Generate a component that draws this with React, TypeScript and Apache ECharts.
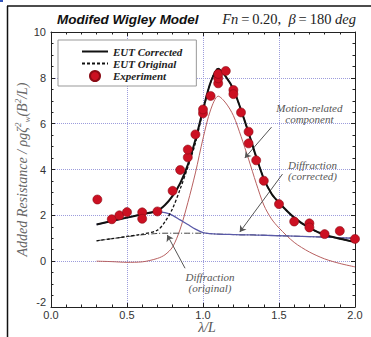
import React, { useEffect, useRef } from "react";
import * as echarts from "echarts";

// wave length ratio grid shared by the computed curves
const lambda = [0.30, 0.40, 0.50, 0.60, 0.70, 0.75, 0.80, 0.85, 0.90, 0.95, 1.00, 1.05, 1.10, 1.15, 1.20, 1.25, 1.30, 1.35, 1.40, 1.45, 1.50, 1.60, 1.70, 1.80, 1.90, 2.00];
const eutCorrected = [1.60, 1.75, 1.90, 2.05, 2.20, 2.45, 2.85, 3.40, 4.20, 5.30, 6.60, 7.80, 8.40, 8.05, 7.50, 6.60, 5.60, 4.55, 3.60, 2.95, 2.55, 1.90, 1.45, 1.15, 0.98, 0.84];
const eutOriginal = [0.89, 0.98, 1.08, 1.18, 1.35, 1.72, 2.30, 3.15, 4.10, 5.15, 6.55, 7.80, 8.40, 8.05, 7.50, 6.60, 5.60, 4.55, 3.60, 2.95, 2.55, 1.90, 1.45, 1.15, 0.98, 0.84];
const motionRelated = [0.00, -0.02, -0.05, -0.03, 0.12, 0.28, 0.62, 1.40, 2.55, 3.85, 5.35, 6.60, 7.20, 6.90, 6.35, 5.45, 4.45, 3.40, 2.45, 1.85, 1.45, 0.82, 0.40, 0.10, -0.10, -0.25];
const diffCorrected = [1.60, 1.75, 1.90, 2.05, 2.15, 2.12, 2.00, 1.80, 1.60, 1.40, 1.25, 1.20, 1.18, 1.17, 1.16, 1.15, 1.15, 1.14, 1.13, 1.12, 1.11, 1.09, 1.07, 1.05, 1.02, 1.00];
const diffOriginal = [0.89, 0.98, 1.07, 1.15, 1.21, 1.22, 1.22, 1.22, 1.22, 1.22, 1.22, 1.20, 1.18, 1.17, 1.16, 1.15, 1.15, 1.14, 1.13, 1.12, 1.11, 1.09, 1.07, 1.05, 1.02, 1.00];

// experiment
const expLambda = [0.305, 0.40, 0.45, 0.50, 0.60, 0.60, 0.70, 0.80, 0.85, 0.90, 0.90, 0.95, 1.00, 1.00, 1.05, 1.10, 1.10, 1.10, 1.15, 1.20, 1.20, 1.25, 1.30, 1.30, 1.35, 1.40, 1.50, 1.60, 1.70, 1.70, 1.80, 1.90, 2.00];
const expValue = [2.69, 1.83, 2.00, 2.14, 2.13, 1.85, 2.17, 3.07, 3.98, 4.53, 4.87, 5.53, 6.45, 6.62, 7.21, 7.76, 7.98, 8.17, 8.30, 7.47, 7.29, 6.49, 5.65, 5.14, 4.40, 3.51, 2.49, 1.73, 1.65, 1.47, 1.18, 1.32, 0.97];

// annotations (data coordinates of the text centres)
const annotationTexts = ["Motion-related\ncomponent", "Diffraction\n(corrected)", "Diffraction\n(original)"];
const annotationAt = [[1.70, 6.45], [1.72, 3.95], [1.046, -0.92]];
const arrowFrom = [[1.451, 5.85], [1.523, 3.80], [0.882, -0.31]];
const arrowTo = [[1.275, 4.50], [1.242, 1.27], [0.765, 1.14]];

const pairs = (xs: number[], ys: number[]) => xs.map((x, i) => [x, ys[i]]);

export default function App() {
  const ref = useRef<HTMLDivElement>(null);
  useEffect(() => {
    if (!ref.current) return;
    const chart = echarts.init(ref.current, null, { renderer: "svg" });
    const axisColor = "#222";
    const xBase = {
      type: "value",
      min: 0,
      max: 2,
      interval: 0.5,
      axisLine: { show: true, onZero: false, lineStyle: { color: axisColor, width: 1 } },
      axisTick: { show: true, inside: true, length: 4, lineStyle: { color: axisColor } },
      minorTick: { show: true, splitNumber: 5, length: 2.5, lineStyle: { color: axisColor } },
    };
    const yBase = {
      type: "value",
      min: -2,
      max: 10,
      interval: 2,
      axisLine: { show: true, onZero: false, lineStyle: { color: axisColor, width: 1 } },
      axisTick: { show: true, inside: true, length: 4, lineStyle: { color: axisColor } },
      minorTick: { show: true, splitNumber: 4, length: 2.5, lineStyle: { color: axisColor } },
    };
    const gridLine = { show: true, lineStyle: { type: "dotted", color: "#9c9cdc", width: 1 } };
    const hiddenIcon = { opacity: 0 };
    const option: any = {
      animation: false,
      backgroundColor: "#fff",
      grid: { left: 51, right: 16, top: 32, bottom: 30, containLabel: false, outerBoundsMode: "none" },
      legend: {
        data: [
          { name: "EUT Corrected", itemStyle: hiddenIcon },
          { name: "EUT Original", itemStyle: hiddenIcon },
          { name: "Experiment" },
        ],
        orient: "vertical",
        left: 58,
        top: 40,
        itemWidth: 26,
        itemHeight: 10,
        itemGap: 1,
        padding: [6, 14, 4, 23],
        backgroundColor: "#fff",
        borderColor: "#999",
        borderWidth: 1,
        selectedMode: false,
        textStyle: { fontFamily: "Liberation Serif", fontStyle: "italic", fontWeight: "bold", fontSize: 11, color: "#222" },
      },
      xAxis: [
        {
          ...xBase,
          axisLabel: { formatter: (v: number) => v.toFixed(1), fontFamily: "Liberation Sans", fontSize: 11, color: "#333", margin: 2 },
          splitLine: gridLine,
        },
        { ...xBase, position: "top", axisLabel: { show: false }, splitLine: { show: false } },
      ],
      yAxis: [
        {
          ...yBase,
          axisLabel: {
            fontFamily: "Liberation Sans",
            fontSize: 11,
            color: "#333",
            margin: 5,
            verticalAlignMinLabel: "bottom",
          },
          splitLine: gridLine,
        },
        { ...yBase, position: "right", axisLabel: { show: false }, splitLine: { show: false } },
      ],
      series: [
        {
          name: "Motion-related",
          type: "line",
          smooth: 0.3,
          symbol: "none",
          data: pairs(lambda, motionRelated),
          lineStyle: { color: "#b86060", width: 1 },
          z: 2,
          markLine: {
            silent: true,
            symbol: ["none", "arrow"],
            symbolSize: 6,
            label: { show: false },
            lineStyle: { color: "#555", width: 1, type: "solid" },
            emphasis: { disabled: true },
            data: arrowFrom.map((f, i) => [{ coord: f }, { coord: arrowTo[i] }]),
          },
        },
        {
          name: "Diffraction (original)",
          type: "line",
          smooth: 0.3,
          symbol: "none",
          data: pairs(lambda, diffOriginal),
          lineStyle: { color: "#444", width: 1, type: [6, 2, 1, 2] },
          z: 3,
        },
        {
          name: "Diffraction (corrected)",
          type: "line",
          smooth: 0.3,
          symbol: "none",
          data: pairs(lambda, diffCorrected),
          lineStyle: { color: "#5a5aa8", width: 1.3 },
          z: 4,
        },
        {
          name: "EUT Original",
          type: "line",
          smooth: 0.3,
          symbol: "none",
          data: pairs(lambda, eutOriginal),
          lineStyle: { color: "#111", width: 1.3, type: [3, 2] },
          itemStyle: { color: "#111" },
          z: 5,
        },
        {
          name: "EUT Corrected",
          type: "line",
          smooth: 0.3,
          symbol: "none",
          data: pairs(lambda, eutCorrected),
          lineStyle: { color: "#111", width: 2 },
          itemStyle: { color: "#111" },
          z: 6,
        },
        {
          name: "Experiment",
          type: "scatter",
          symbol: "circle",
          symbolSize: 9,
          data: pairs(expLambda, expValue),
          itemStyle: { color: "#cc1022", borderColor: "#8a0a14", borderWidth: 0.6, opacity: 1 },
          z: 7,
        },
      ],
    };
    chart.setOption(option);

    const toPx = (p: number[]) => chart.convertToPixel({ xAxisIndex: 0, yAxisIndex: 0 }, p) as number[];
    const bottomLeft = toPx([0, -2]);
    const topRight = toPx([2, 10]);
    const cx = (bottomLeft[0] + topRight[0]) / 2;
    const cy = (bottomLeft[1] + topRight[1]) / 2;

    const ts = "\u2009";
    const serifItalic = { fontFamily: "Liberation Serif", fontStyle: "italic", fill: "#666" };
    const graphics: any[] = [
      { type: "line", shape: { x1: 7, y1: 6, x2: 371, y2: 6 }, style: { stroke: "#111", lineWidth: 1.5 } },
      { type: "line", shape: { x1: 7.5, y1: 6, x2: 7.5, y2: 337 }, style: { stroke: "#111", lineWidth: 1.5 } },
      { type: "rect", shape: { x: 0, y: 0, width: 3, height: 2 }, style: { fill: "#3355bb" } },
      {
        type: "text",
        left: 57,
        top: 12,
        style: { text: "Modifed Wigley Model", font: 'italic bold 13.5px "Liberation Sans"', fill: "#111" },
      },
      {
        type: "text",
        right: 15,
        top: 11,
        style: {
          text: `{i|Fn}{r|${ts}=${ts}0.20,  }{i|β}{r|${ts}=${ts}180 }{i|deg}`,
          rich: {
            i: { fontFamily: "Liberation Serif", fontStyle: "italic", fontSize: 14.5, fill: "#222" },
            r: { fontFamily: "Liberation Serif", fontSize: 14.5, fill: "#222" },
          },
        },
      },
      // x axis name
      {
        type: "text",
        x: cx + 4,
        y: bottomLeft[1] + 13,
        style: { text: "λ/L", align: "center", verticalAlign: "top", font: 'italic 14px "Liberation Serif"', fill: "#555" },
      },
      // y axis name
      {
        type: "text",
        x: 22,
        y: cy,
        rotation: Math.PI / 2,
        style: {
          text: "{m|Added Resistance / ρgζ}{sup|2}{sub|w}{m|(B}{sup|2}{m|/L)}",
          align: "center",
          verticalAlign: "middle",
          rich: {
            m: { ...serifItalic, fontSize: 14, lineHeight: 18, verticalAlign: "middle" },
            sup: { ...serifItalic, fontSize: 9, lineHeight: 9, verticalAlign: "top" },
            sub: { ...serifItalic, fontSize: 9, lineHeight: 9, verticalAlign: "bottom" },
          },
        },
      },
    ];
    annotationTexts.forEach((t, i) => {
      const p = toPx(annotationAt[i]);
      graphics.push({
        type: "text",
        x: p[0],
        y: p[1],
        style: { text: t, align: "center", verticalAlign: "middle", font: 'italic 11px "Liberation Serif"', lineHeight: 11, fill: "#555" },
        z: 100,
      });
    });
    chart.setOption({ graphic: graphics });
    return () => chart.dispose();
  }, []);
  return <div ref={ref} style={{ width: 371, height: 337, position: "absolute", left: 0, top: 0 }} />;
}
